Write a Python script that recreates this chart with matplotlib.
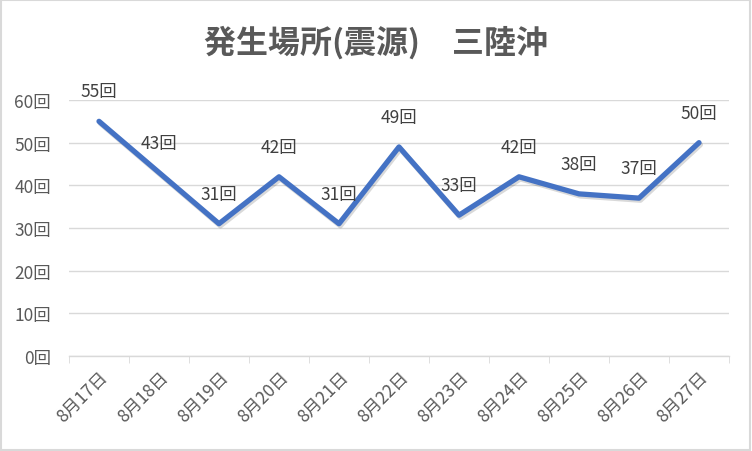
import matplotlib.pyplot as plt
import matplotlib.patheffects as pe

plt.rcParams['font.family'] = ['Noto Sans CJK JP', 'DejaVu Sans']

dates = ["8月17日", "8月18日", "8月19日", "8月20日", "8月21日", "8月22日",
         "8月23日", "8月24日", "8月25日", "8月26日", "8月27日"]
counts = [55, 43, 31, 42, 31, 49, 33, 42, 38, 37, 50]
y_ticks = [0, 10, 20, 30, 40, 50, 60]

fig = plt.figure(figsize=(7.52, 4.52), dpi=100)
ax = fig.add_axes([69 / 752, 95 / 452, 660 / 752, 256 / 452])

x = list(range(len(dates)))
ax.plot(x, counts, color="#4472C4", linewidth=3.8, solid_joinstyle="round",
        solid_capstyle="round",
        path_effects=[pe.SimpleLineShadow(offset=(1, -1.5), alpha=0.15),
                      pe.Normal()], zorder=3)

for xi, v in zip(x, counts):
    ax.annotate(f"{v}回", (xi, v), xytext=(0, 30), textcoords="offset pixels",
                ha="center", va="center", fontsize=12.5, color="#404040")

ax.set_xlim(-0.5, len(dates) - 0.5)
ax.set_ylim(0, 60)
ax.set_yticks(y_ticks)
ax.set_yticklabels([f"{t}回" for t in y_ticks], fontsize=12.5, color="#595959")
ax.set_xticks(x)
ax.set_xticklabels(dates, rotation=45, ha="right", rotation_mode="anchor",
                   fontsize=12.5, color="#595959")
ax.set_xticks([i - 0.5 for i in range(len(dates) + 1)], minor=True)
ax.tick_params(axis="x", which="major", length=0, pad=8)
ax.tick_params(axis="x", which="minor", length=5, color="#D9D9D9")
ax.tick_params(axis="y", length=0, pad=13)
ax.grid(axis="y", color="#D9D9D9", linewidth=1)
for s in ["top", "right", "left"]:
    ax.spines[s].set_visible(False)
ax.spines["bottom"].set_color("#D9D9D9")
ax.spines["bottom"].set_linewidth(1)
ax.set_axisbelow(True)

fig.text(0.5, 1 - 43 / 452, "発生場所(震源)　三陸沖", ha="center", va="center",
         fontsize=23, fontweight="bold", color="#595959")

border = plt.Rectangle((0.001, 0.002), 0.997, 0.995, transform=fig.transFigure,
                       fill=False, edgecolor="#D9D9D9", linewidth=1.5)
fig.patches.append(border)

fig.savefig("out.png", dpi=100)
